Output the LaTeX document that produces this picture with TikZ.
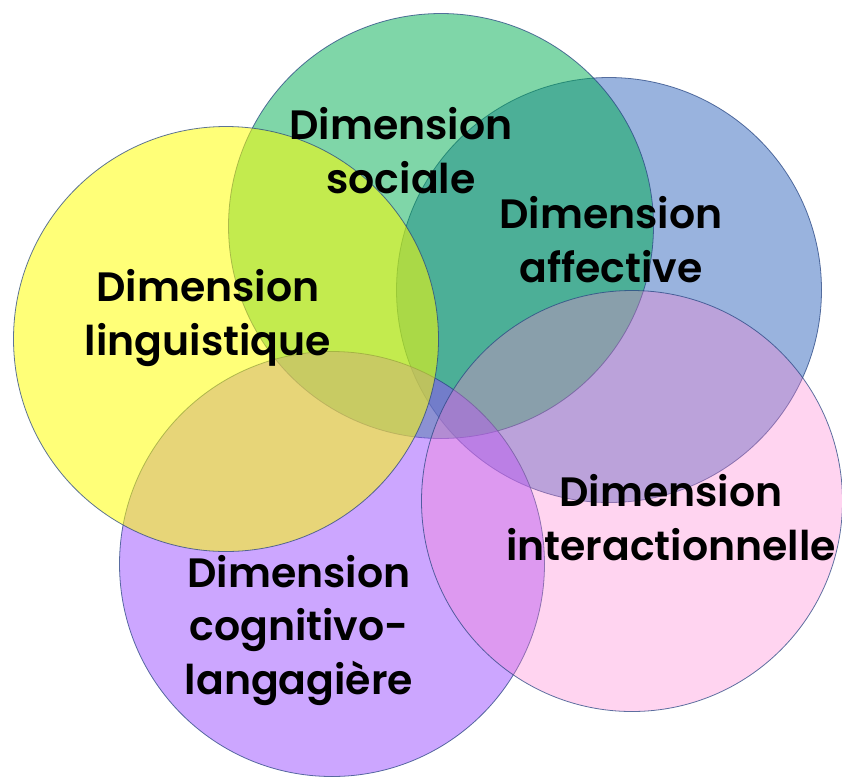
\documentclass[tikz,border=0pt]{standalone}
\usepackage{fontspec}
\setmainfont{Poppins SemiBold}
\definecolor{cblue}{RGB}{51,103,189}
\definecolor{cgreen}{RGB}{0,173,81}
\definecolor{cpurple}{RGB}{153,77,255}
\definecolor{cyellow}{RGB}{255,255,0}
\definecolor{cpink}{RGB}{255,129,211}
\definecolor{cline}{RGB}{40,70,130}
\tikzset{
  disc/.style={circle, inner sep=0pt, minimum size=425pt, draw=cline, line width=0.8pt, draw opacity=0.75},
  lbl/.style={align=center, font=\fontsize{41}{53.5}\selectfont, text=black, inner sep=0pt, anchor=base}
}
\begin{document}
\begin{tikzpicture}[x=1pt,y=-1pt]
\useasboundingbox (0,0) rectangle (842,780);
\node[disc, fill=cblue, fill opacity=0.5] (cb) at (609,290) {};
\node[disc, fill=cgreen, fill opacity=0.5] (cg) at (441,226) {};
\node[disc, fill=cpurple, fill opacity=0.5] (cp) at (332,564) {};
\node[disc, fill=cyellow, fill opacity=0.53] (cy) at (226,339) {};
\node[disc, fill=cpink, fill opacity=0.34, minimum size=421pt] (ck) at (632,501) {};
\node[lbl] (tg) at (401,193) {Dimension\\sociale};
\node[lbl] (tb) at (611,282) {Dimension\\affective};
\node[lbl] (ty) at (208,355) {Dimension\\linguistique};
\node[lbl] (tp) at (299,694) {Dimension\\cognitivo-\\langagière};
\node[lbl] (tk) at (671,560) {Dimension\\interactionnelle};
\end{tikzpicture}
\end{document}
